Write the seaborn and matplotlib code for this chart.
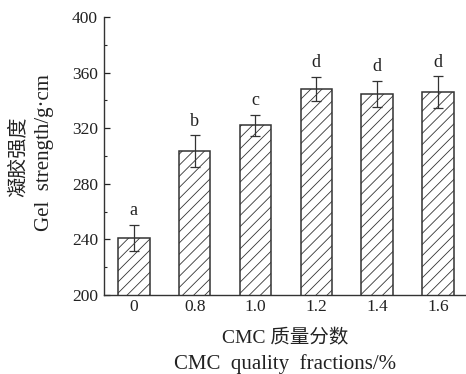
import matplotlib
matplotlib.use("Agg")
import matplotlib.pyplot as plt
import seaborn as sns
import pandas as pd
from matplotlib.ticker import MultipleLocator

categories = ["0", "0.8", "1.0", "1.2", "1.4", "1.6"]
gel_strength = [241.0, 303.5, 322.0, 348.4, 344.5, 346.0]
errors = [9.6, 11.4, 7.7, 8.7, 9.6, 11.4]
letters = ["a", "b", "c", "d", "d", "d"]
y_ticks = [200, 240, 280, 320, 360, 400]

sns.set_theme(style="ticks")
plt.rcParams["font.family"] = ["Liberation Serif", "Noto Sans CJK SC"]
plt.rcParams["hatch.linewidth"] = 0.6
plt.rcParams["hatch.color"] = "#333333"

df = pd.DataFrame({"cat": categories, "val": gel_strength})

fig = plt.figure(figsize=(4.66, 3.74), dpi=100)
ax = fig.add_axes([104 / 466, 1 - 295 / 374, 1 - 104 / 466, (295 - 17) / 374])

sns.barplot(data=df, x="cat", y="val", order=categories, color="white",
            edgecolor="#333333", linewidth=1.1, width=0.52, errorbar=None, ax=ax)
for p in ax.patches:
    p.set_hatch("///")
    p.set_facecolor("white")

xs = list(range(len(categories)))
ax.errorbar(xs, gel_strength, yerr=errors, fmt="none", ecolor="#333333",
            elinewidth=0.9, capsize=3.6, capthick=0.9)
for x, v, e, t in zip(xs, gel_strength, errors, letters):
    ax.text(x, v + e + 4, t, ha="center", va="bottom", fontsize=13, color="#222222")

ax.set_ylim(200, 400)
ax.set_xlim(-0.49, 5.46)
ax.set_yticks(y_ticks)
ax.yaxis.set_minor_locator(MultipleLocator(20))
ax.tick_params(axis="y", which="major", direction="in", length=4, width=0.9,
               labelsize=12.5, colors="#222222", pad=4.3)
ax.tick_params(axis="y", which="minor", direction="in", length=2.5, width=0.8)
ax.tick_params(axis="x", length=0, labelsize=12.5, colors="#222222", pad=3)
for s in ["top", "right"]:
    ax.spines[s].set_visible(False)
for s in ["left", "bottom"]:
    ax.spines[s].set_linewidth(1.0)
    ax.spines[s].set_color("#333333")

ax.set_xlabel("")
ax.set_ylabel("")

# y-axis title (two lines)
fig.text(19 / 466, 1 - 157 / 374, "凝胶强度", rotation=90, ha="center",
         va="center", fontsize=14.5, color="#222222")
fig.text(45 / 466, 1 - 153 / 374, "Gel  strength/g·cm", rotation=90,
         ha="center", va="center", fontsize=15, color="#222222")

# x-axis title (two lines)
fig.text(285 / 466, 1 - 343 / 374, "CMC 质量分数", ha="center", va="baseline",
         fontsize=14, color="#222222")
fig.text(285 / 466, 1 - 369 / 374, "CMC  quality  fractions/%", ha="center",
         va="baseline", fontsize=15, color="#222222")

fig.savefig("out.png", dpi=100)
